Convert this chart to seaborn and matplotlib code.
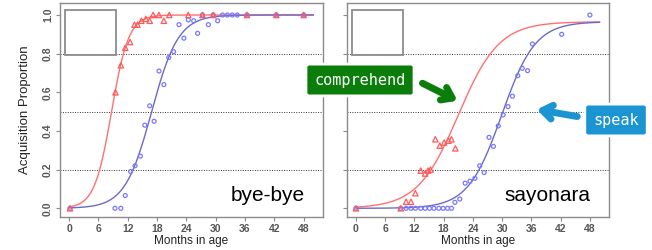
import matplotlib
matplotlib.use("Agg")
import matplotlib.pyplot as plt
from matplotlib.patches import Rectangle
import seaborn as sns
import numpy as np
import pandas as pd

# ---- data ----
# bye-bye: comprehend (red triangles)
bye_comp_age = [0.2, 9.5, 10.6, 11.5, 12.5, 13.4, 14.0, 14.8, 15.7, 16.5, 17.2, 18.4, 19.4, 20.5,
                24.4, 27.3, 29.5, 36.4, 42.4, 48.0]
bye_comp_prop = [0.0, 0.60, 0.74, 0.83, 0.86, 0.95, 0.95, 0.97, 0.98, 0.97, 1.0, 1.0, 0.97, 1.0,
                 1.0, 1.0, 1.0, 1.0, 1.0, 1.0]
# bye-bye: speak (blue circles)
bye_speak_age = [0.2, 9.4, 10.6, 11.5, 12.6, 13.5, 14.6, 15.5, 16.5, 17.4, 18.4, 19.4, 20.4, 21.4,
                 22.5, 23.5, 24.4, 25.5, 26.3, 27.3, 28.5, 29.5, 30.4, 31.4, 32.4, 33.4, 34.4,
                 36.4, 42.4, 48.0]
bye_speak_prop = [0.0, 0.0, 0.0, 0.066, 0.19, 0.22, 0.27, 0.43, 0.53, 0.45, 0.71, 0.64, 0.78, 0.81,
                  0.95, 0.88, 0.975, 0.97, 0.905, 1.0, 0.95, 1.0, 0.97, 1.0, 1.0, 1.0, 1.0,
                  1.0, 1.0, 1.0]

# sayonara: comprehend
say_comp_age = [0.0, 9.2, 10.3, 11.3, 12.2, 13.3, 14.2, 14.8, 15.3, 16.3, 17.2, 18.1, 19.0, 19.6, 20.4]
say_comp_prop = [0.0, 0.0, 0.034, 0.034, 0.078, 0.195, 0.18, 0.195, 0.20, 0.357, 0.324, 0.34,
                 0.35, 0.357, 0.31]
# sayonara: speak
say_speak_age = [0.0, 9.2, 10.3, 11.3, 12.2, 13.3, 14.2, 15.1, 16.0, 17.0, 17.9, 18.8, 19.6,
                 20.3, 21.3, 22.4, 23.4, 24.4, 25.4, 26.3, 27.3, 28.2, 29.2, 30.2, 31.2, 32.1,
                 33.2, 34.1, 35.2, 36.2, 42.2, 48.0]
say_speak_prop = [0.0, 0.0, 0.0, 0.0, 0.0, 0.0, 0.0, 0.0, 0.0, 0.0, 0.0, 0.0, 0.0,
                  0.031, 0.048, 0.13, 0.14, 0.155, 0.22, 0.185, 0.367, 0.32, 0.426, 0.483, 0.526, 0.58,
                  0.686, 0.724, 0.712, 0.85, 0.90, 1.0]

# fitted logistic curves: (midpoint month, rate, upper asymptote)
bye_comp_fit = (8.7, 0.57, 1.0)
bye_speak_fit = (16.9, 0.365, 1.0)
say_comp_fit = (21.0, 0.24, 0.965)
say_speak_fit = (29.9, 0.29, 0.965)

x_ticks = [0, 6, 12, 18, 24, 30, 36, 42, 48]
y_ticks = [0.0, 0.2, 0.4, 0.6, 0.8, 1.0]
ref_lines = [0.2, 0.5, 0.8]
words = ["bye-bye", "sayonara"]

RED = "#ff5a5a"
BLUE = "#7878ff"
RED_LINE = "#ff7070"
BLUE_LINE = "#6a6ac8"
GRAY = "#8a8a8a"


def logistic_curve(params):
    mid, rate, top = params
    months = np.linspace(0, 50, 300)
    return pd.DataFrame({"age": months, "prop": top / (1 + np.exp(-rate * (months - mid)))})


sns.set_style("white")
plt.rcParams["font.family"] = ["Liberation Sans", "DejaVu Sans"]

fig = plt.figure(figsize=(6.52, 2.5), dpi=100)
ax1 = fig.add_axes([0.092, 0.132, 0.403, 0.856])
ax2 = fig.add_axes([0.532, 0.132, 0.402, 0.856])

panels = [
    (ax1, bye_comp_age, bye_comp_prop, bye_speak_age, bye_speak_prop, bye_comp_fit, bye_speak_fit),
    (ax2, say_comp_age, say_comp_prop, say_speak_age, say_speak_prop, say_comp_fit, say_speak_fit),
]

for i, (ax, ca, cp, sa, sp, cfit, sfit) in enumerate(panels):
    for y in ref_lines:
        ax.axhline(y, color="#333333", ls=(0, (1, 1.5)), lw=0.7, zorder=1)

    comp_df = pd.DataFrame({"age": ca, "prop": cp})
    speak_df = pd.DataFrame({"age": sa, "prop": sp})
    sns.scatterplot(data=speak_df, x="age", y="prop", ax=ax, marker="o", s=8,
                    facecolor="none", edgecolor=BLUE, linewidth=0.9, zorder=3)
    sns.scatterplot(data=comp_df, x="age", y="prop", ax=ax, marker="^", s=15,
                    facecolor="none", edgecolor=RED, linewidth=0.9, zorder=3)
    sns.lineplot(data=logistic_curve(cfit), x="age", y="prop", ax=ax, color=RED_LINE, lw=1.0, zorder=2)
    sns.lineplot(data=logistic_curve(sfit), x="age", y="prop", ax=ax, color=BLUE_LINE, lw=1.0, zorder=2)

    ax.set_xlim(-1.85, 51.9)
    ax.set_ylim(-0.045, 1.062)
    ax.set_xticks(x_ticks)
    ax.set_yticks(y_ticks)
    ax.set_xticklabels([str(t) for t in x_ticks], fontsize=7.5, fontweight="bold", color="#555555")
    if i == 0:
        ax.set_yticklabels([f"{t:.1f}" for t in y_ticks], fontsize=7.5, fontweight="bold",
                           color="#555555", rotation=90, va="center")
        ax.set_ylabel("Acquisition Proportion", fontsize=9.5, color="#222222", labelpad=9)
    else:
        ax.set_yticklabels([])
        ax.set_ylabel("")
    ax.set_xlabel("Months in age", fontsize=8.5, color="#222222", labelpad=1)
    ax.tick_params(axis="both", direction="out", length=3, width=0.8, color=GRAY, pad=2, left=True, bottom=True)
    for s in ax.spines.values():
        s.set_color(GRAY)
        s.set_linewidth(1.0)

    # empty legend frame in the corner
    ax.add_patch(Rectangle((0.019, 0.757), 0.194, 0.21, transform=ax.transAxes,
                           fill=False, edgecolor="#8c8c8c", lw=1.3, zorder=4))
    ax.text(0.93, 0.1, words[i], transform=ax.transAxes, ha="right", va="center",
            fontsize=15, color="black")

# callouts
fig.text(360 / 652, 170 / 250, "comprehend", ha="center", va="center", fontsize=11,
         family="DejaVu Sans Mono", color="white",
         bbox=dict(boxstyle="round,pad=0.55,rounding_size=0.2", fc="#0a7d0a", ec="white", lw=2))
fig.text(616 / 652, 130 / 250, "speak", ha="center", va="center", fontsize=11,
         family="DejaVu Sans Mono", color="white",
         bbox=dict(boxstyle="round,pad=0.55,rounding_size=0.2", fc="#1a95d2", ec="white", lw=2))

ax2.annotate("", xy=(460, 148), xycoords="figure pixels", xytext=(420, 168),
             textcoords="figure pixels",
             arrowprops=dict(arrowstyle="->,head_length=0.7,head_width=0.5", color="#0a7d0a", lw=5))
ax2.annotate("", xy=(534, 141), xycoords="figure pixels", xytext=(580, 133),
             textcoords="figure pixels",
             arrowprops=dict(arrowstyle="->,head_length=0.7,head_width=0.5", color="#1a95d2", lw=5))

fig.savefig("out.png", dpi=100)
